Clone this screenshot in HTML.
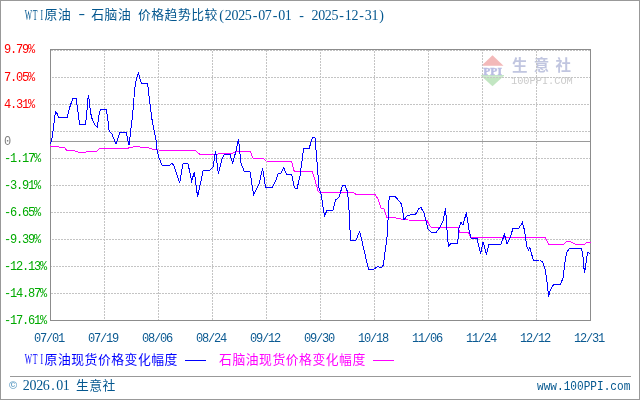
<!DOCTYPE html>
<html><head><meta charset="utf-8"><style>
*{margin:0;padding:0}
html,body{width:640px;height:400px;overflow:hidden;background:#fff}
#b{position:absolute;left:0;top:0;width:638px;height:398px;border:1px solid #999}
.yl,.xl,.cp{will-change:transform}
.cp{position:absolute;left:9px;top:378px;font:bold 11px/14px "Liberation Sans",sans-serif;color:#6aa3c8}
.yl{position:absolute;left:4px;font-family:"Liberation Mono",monospace;font-size:12px;line-height:14px;letter-spacing:-1.2px;white-space:pre}
.xl{position:absolute;top:333px;width:30px;text-align:center;color:#0b5a92;font-family:"Liberation Mono",monospace;font-size:12px;line-height:12px;letter-spacing:-1.2px}
.ln{position:absolute;height:1px;top:360px;width:21px}
svg{position:absolute;left:0;top:0;will-change:transform}
svg text{white-space:pre}
</style></head><body>
<div id="b"></div>
<svg width="640" height="400" viewBox="0 0 640 400">
<g id="wm">
<polygon points="481.5,65.8 492.5,55.3 503.5,65.8" fill="#f3b9b9"/>
<rect x="481" y="75" width="23" height="1.2" fill="#c4e8c4"/>
<polygon points="481.5,76.2 492.5,86.2 503.5,76.2" fill="#c2e6c2"/>
<text x="483.3" y="74.6" font-family="Liberation Serif" font-weight="bold" font-size="9.4" textLength="18.6" lengthAdjust="spacingAndGlyphs" fill="#b9bde3" stroke="#b9bde3" stroke-width="0.4">PPI</text>
<text x="512" y="71" font-family="Noto Sans CJK SC" font-size="15.5" font-weight="bold" fill="#c1c6e0" letter-spacing="6.3">生意社</text>
<text x="511" y="84" font-family="Liberation Mono" font-size="10.3" fill="#cbcbcb">100PPI.COM</text>
</g>
<g stroke="#c4c4c4" stroke-width="1" stroke-dasharray="2 1" fill="none" shape-rendering="crispEdges"><line x1="51" y1="50.5" x2="590" y2="50.5" stroke-dashoffset="0"/><line x1="51" y1="77.5" x2="590" y2="77.5" stroke-dashoffset="2"/><line x1="51" y1="104.5" x2="590" y2="104.5" stroke-dashoffset="1"/><line x1="51" y1="131.5" x2="590" y2="131.5" stroke-dashoffset="0"/><line x1="51" y1="158.5" x2="590" y2="158.5" stroke-dashoffset="2"/><line x1="51" y1="185.5" x2="590" y2="185.5" stroke-dashoffset="1"/><line x1="51" y1="212.5" x2="590" y2="212.5" stroke-dashoffset="0"/><line x1="51" y1="239.5" x2="590" y2="239.5" stroke-dashoffset="2"/><line x1="51" y1="266.5" x2="590" y2="266.5" stroke-dashoffset="1"/><line x1="51" y1="293.5" x2="590" y2="293.5" stroke-dashoffset="0"/><line x1="104.5" y1="50" x2="104.5" y2="320" stroke-dashoffset="0"/><line x1="158.5" y1="50" x2="158.5" y2="320" stroke-dashoffset="1"/><line x1="212.5" y1="50" x2="212.5" y2="320" stroke-dashoffset="2"/><line x1="266.5" y1="50" x2="266.5" y2="320" stroke-dashoffset="0"/><line x1="320.5" y1="50" x2="320.5" y2="320" stroke-dashoffset="1"/><line x1="374.5" y1="50" x2="374.5" y2="320" stroke-dashoffset="2"/><line x1="428.5" y1="50" x2="428.5" y2="320" stroke-dashoffset="0"/><line x1="482.5" y1="50" x2="482.5" y2="320" stroke-dashoffset="1"/><line x1="536.5" y1="50" x2="536.5" y2="320" stroke-dashoffset="2"/></g>
<line x1="50" y1="141.5" x2="590" y2="141.5" stroke="#9a9a9a" shape-rendering="crispEdges"/>
<rect x="50.5" y="49.5" width="540" height="271" fill="none" stroke="#8c8c8c" shape-rendering="crispEdges"/>
<polyline points="50.5,146.2 56.8,146.9 64.2,147.2 67.0,151.0 70.0,150.0 73.0,150.0 75.0,151.0 78.0,152.0 86.0,152.0 88.0,151.0 97.0,151.0 100.0,148.4 127.0,148.4 130.0,147.6 136.0,146.4 140.0,147.0 148.0,147.6 152.0,149.0 158.0,150.0 195.0,150.4 200.0,154.4 214.0,154.4 223.0,153.6 233.0,153.0 237.0,151.0 250.0,151.0 253.0,158.0 263.0,158.4 266.0,161.0 291.6,161.4 294.4,172.0 296.0,171.6 312.0,171.0 315.0,180.0 318.4,192.0 353.0,192.4 356.0,194.4 375.0,194.4 378.0,199.0 381.0,208.0 384.0,209.0 387.0,217.6 396.0,218.0 404.0,219.6 408.0,220.0 427.0,220.4 430.4,227.0 458.0,227.4 460.0,232.4 463.0,233.0 468.0,232.0 471.0,237.6 545.3,237.5 548.5,244.3 563.6,244.3 567.0,241.3 570.5,241.6 575.3,244.3 584.2,244.3 587.4,242.3 590.7,242.3" fill="none" stroke="#ff00ff" stroke-width="1" shape-rendering="crispEdges"/>
<polyline points="50.5,144.4 52.4,136.2 53.6,126.2 54.9,115.0 55.8,111.5 56.8,113.0 58.6,117.2 67.4,117.2 68.6,111.2 70.5,105.0 73.0,98.0 76.0,98.0 78.6,116.2 79.5,124.4 85.5,124.4 86.5,116.2 87.8,100.0 88.3,95.0 89.2,100.0 90.5,112.5 92.4,120.0 94.9,125.0 97.4,126.9 98.0,122.5 99.2,113.8 100.5,109.4 106.1,109.4 107.4,116.2 109.2,131.2 111.8,133.8 116.0,144.0 120.0,132.0 126.0,132.0 129.0,145.0 132.4,116.8 133.6,103.0 134.5,91.0 135.5,82.4 136.8,78.0 138.4,72.4 139.5,77.4 140.8,81.8 141.5,83.2 147.4,83.2 148.2,88.0 149.2,98.0 150.5,108.0 151.5,116.8 156.0,140.0 156.5,148.0 159.0,158.0 162.0,165.0 170.0,165.0 172.0,163.0 174.0,166.0 179.6,183.0 183.0,163.6 188.0,163.6 191.6,181.0 194.4,172.0 197.6,197.0 203.0,171.0 210.0,170.0 213.0,167.0 215.6,151.0 218.4,174.0 222.0,159.0 224.4,154.4 230.0,154.4 232.6,163.0 236.0,151.0 238.4,138.6 241.0,163.0 244.0,171.0 250.0,171.6 253.6,195.0 259.0,184.0 262.6,168.4 265.6,187.6 272.0,187.6 276.0,180.0 278.0,173.6 281.0,173.0 283.6,167.6 286.4,174.0 291.6,174.4 294.4,187.6 297.0,189.0 300.0,176.0 303.6,148.6 309.0,148.6 312.4,138.0 315.0,137.6 317.0,162.0 319.0,188.0 321.0,194.0 322.0,200.0 324.4,216.0 327.0,210.4 333.0,210.0 335.6,200.0 339.0,197.0 342.4,186.0 345.0,185.6 347.6,192.0 349.0,210.0 350.0,230.0 350.6,240.0 356.0,240.0 359.6,231.6 362.4,243.0 368.4,269.0 374.0,269.0 377.6,266.4 381.0,268.0 383.4,265.0 387.0,237.0 388.4,214.0 389.0,200.0 390.0,196.0 395.0,196.0 398.0,200.0 401.6,204.0 404.0,220.0 406.4,216.4 410.0,215.0 415.6,214.4 418.4,209.0 421.0,207.6 424.0,213.0 428.0,229.0 431.0,232.0 436.4,232.0 440.0,227.0 443.0,221.0 445.6,208.4 447.0,230.0 448.4,246.0 451.0,243.6 457.6,243.0 459.0,228.0 461.0,222.4 463.0,225.0 466.4,212.4 469.0,230.0 471.0,238.0 477.0,238.4 480.6,253.6 483.0,241.6 486.4,254.0 489.0,244.4 501.0,244.4 504.4,234.4 507.0,243.6 510.0,238.0 513.0,228.4 519.0,228.0 522.4,222.4 524.4,230.0 526.0,241.0 527.1,247.5 528.5,250.0 529.9,247.8 533.3,260.2 540.0,260.0 542.5,261.9 545.0,268.8 546.2,276.2 547.5,285.0 548.5,296.9 550.0,291.2 551.9,286.9 554.4,284.0 560.6,284.0 563.1,277.8 564.4,266.2 565.6,257.5 567.0,252.3 569.1,248.5 581.5,248.5 582.8,254.4 584.4,273.0 585.6,266.2 587.4,252.7 589.0,253.0 590.6,254.4" fill="none" stroke="#0000ff" stroke-width="1" shape-rendering="crispEdges"/>
<line x1="10" y1="376.5" x2="631" y2="376.5" stroke="#999" shape-rendering="crispEdges"/>
<g id="title"><text transform="translate(25.00 0) scale(0.55 1)" x="6.06 18.18 30.30" y="20" text-anchor="middle" font-family="Liberation Serif" font-size="14" fill="#04578f">WTI</text><text x="44.60 57.93" y="18.5" font-family="Noto Sans CJK SC" font-size="12.8" fill="#04578f">原油</text><text transform="translate(71.67 0) scale(1.4 1)" x="2.38 7.14 11.90" y="18.5" text-anchor="middle" font-family="Liberation Serif" font-size="14" fill="#04578f"> - </text><text x="91.27 104.60 117.93" y="18.5" font-family="Noto Sans CJK SC" font-size="12.8" fill="#04578f">石脑油</text><text x="137.93 151.27 164.60 177.93 191.27 204.60" y="18.5" font-family="Noto Sans CJK SC" font-size="12.8" fill="#04578f">价格趋势比较</text><text x="221.67 228.33 235.00 241.67 248.33 255.00 261.67 268.33 275.00 281.67 288.33 295.00 301.67 308.33 315.00 321.67 328.33 335.00 341.67 348.33 355.00 361.67 368.33 375.00 381.67" y="20" text-anchor="middle" font-family="Liberation Serif" font-size="14" fill="#04578f">(2025-07-01 - 2025-12-31)</text></g>
<g id="legend"><text transform="translate(25.00 0) scale(0.55 1)" x="6.06 18.18 30.30" y="364" text-anchor="middle" font-family="Liberation Serif" font-size="14" fill="#0000ff">WTI</text><text x="44.60 57.93 71.27 84.60 97.93 111.27 124.60 137.93 151.27 164.60" y="363.5" font-family="Noto Sans CJK SC" font-size="12.8" fill="#0000ff">原油现货价格变化幅度</text><text x="219.10 232.43 245.77 259.10 272.43 285.77 299.10 312.43 325.77 339.10 352.43" y="363.5" font-family="Noto Sans CJK SC" font-size="12.8" fill="#ff00ff">石脑油现货价格变化幅度</text></g>
<g id="foot"><text x="26.33 33.00 39.67 46.33 53.00 59.67 66.33" y="390" text-anchor="middle" font-family="Liberation Serif" font-size="14" fill="#04578f">2026.01</text><text x="75.93 89.27 102.60" y="390" font-family="Noto Sans CJK SC" font-size="12.8" fill="#04578f">生意社</text><text transform="translate(537.00 390) scale(0.8335 1)" font-family="Liberation Mono" font-size="13.33" fill="#04578f" >www.100PPI.com</text></g>
</svg>
<div class="yl" style="top:43px;color:#f00">9.79%</div><div class="yl" style="top:71px;color:#f00">7.05%</div><div class="yl" style="top:98px;color:#f00">4.31%</div><div class="yl" style="top:135px;color:#808080">0</div><div class="yl" style="top:152px;color:#00aa00">-1.17%</div><div class="yl" style="top:179px;color:#00aa00">-3.91%</div><div class="yl" style="top:206px;color:#00aa00">-6.65%</div><div class="yl" style="top:233px;color:#00aa00">-9.39%</div><div class="yl" style="top:260px;color:#00aa00">-12.13%</div><div class="yl" style="top:287px;color:#00aa00">-14.87%</div><div class="yl" style="top:314px;color:#00aa00">-17.61%</div>
<div class="xl" style="left:34px">07/01</div><div class="xl" style="left:88px">07/19</div><div class="xl" style="left:142px">08/06</div><div class="xl" style="left:196px">08/24</div><div class="xl" style="left:250px">09/12</div><div class="xl" style="left:304px">09/30</div><div class="xl" style="left:358px">10/18</div><div class="xl" style="left:412px">11/06</div><div class="xl" style="left:466px">11/24</div><div class="xl" style="left:520px">12/12</div><div class="xl" style="left:574px">12/31</div>
<div class="ln" style="left:185px;background:#00f"></div>
<div class="ln" style="left:373px;background:#f0f"></div>
<div class="cp">&copy;</div>
</body></html>
